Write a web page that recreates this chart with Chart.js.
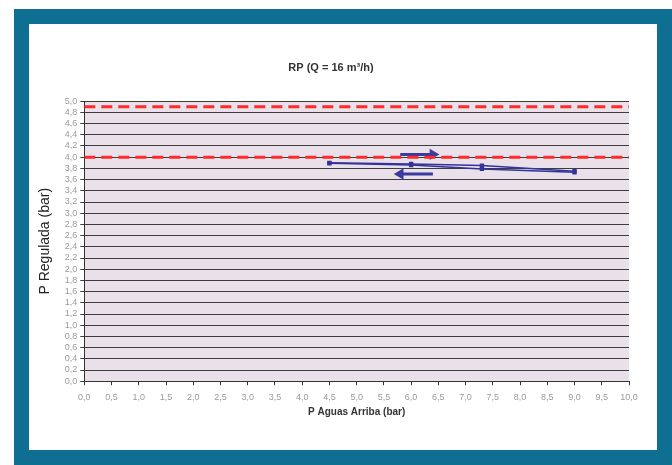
<!DOCTYPE html>
<html lang="es">
<head>
<meta charset="UTF-8">
<title>RP (Q = 16 m3/h)</title>
<script src="https://cdn.jsdelivr.net/npm/chart.js@4"></script>
<style>
  html, body { margin: 0; padding: 0; background: #fff; }
  .frame {
    position: absolute; left: 14px; top: 9px; width: 628px; height: 426px;
    border: 15px solid #0f6f93;
    background: #fff;
  }
  .frame canvas { display: block; }
</style>
</head>
<body>
<div class="frame">
  <canvas id="rpChart" width="628" height="426"></canvas>
</div>
<script>
// data
const upstreamRising  = [4.5, 6.0, 7.3, 9.0];
const regulatedRising = [3.90, 3.88, 3.85, 3.75];
const upstreamFalling  = [9.0, 7.3, 6.0, 4.5];
const regulatedFalling = [3.73, 3.79, 3.86, 3.89];

const limitHigh = 4.9;
const limitLow  = 4.0;

// direction arrows (annotation)
const arrowRightX = [5.8, 6.4];
const arrowRightY = [4.05, 4.05];
const arrowLeftX  = [6.4, 5.8];
const arrowLeftY  = [3.70, 3.70];

const xMin = 0, xMax = 10, xStep = 0.5;
const yMin = 0, yMax = 5, yStep = 0.2;

const toPts = (xs, ys) => xs.map((x, i) => ({ x: x, y: ys[i] }));
const comma = v => Number(v).toFixed(1).replace('.', ',');

const plotBg = {
  id: 'plotBg',
  beforeDraw(chart) {
    const { ctx, chartArea: a } = chart;
    ctx.save();
    ctx.fillStyle = '#e9e0e9';
    ctx.fillRect(a.left, a.top, a.right - a.left, a.bottom - a.top);
    ctx.restore();
  }
};

const arrowStyle = (color, rot) => ({
  type: 'line', borderColor: color, backgroundColor: color, borderWidth: 3,
  pointStyle: 'triangle', pointRotation: rot, pointRadius: [0, 3.5], pointHoverRadius: 0
});

new Chart('rpChart', {
  type: 'scatter',
  data: {
    datasets: [
      { type: 'line', data: [{ x: xMin, y: limitHigh }, { x: xMax, y: limitHigh }],
        borderColor: '#ff2a2a', borderWidth: 3, borderDash: [11, 6], pointRadius: 0 },
      { type: 'line', data: [{ x: xMin, y: limitLow }, { x: xMax, y: limitLow }],
        borderColor: '#ff2a2a', borderWidth: 3, borderDash: [11, 6], pointRadius: 0 },
      { type: 'line', data: toPts(upstreamRising, regulatedRising),
        borderColor: '#33339a', backgroundColor: '#33339a', borderWidth: 1.5,
        pointStyle: 'rect', pointRadius: 2 },
      { type: 'line', data: toPts(upstreamFalling, regulatedFalling),
        borderColor: '#33339a', backgroundColor: '#33339a', borderWidth: 1.5,
        pointStyle: 'rect', pointRadius: 2 },
      { ...arrowStyle('#3a3aa0', 90), data: toPts(arrowRightX, arrowRightY) },
      { ...arrowStyle('#3a3aa0', -90), data: toPts(arrowLeftX, arrowLeftY) }
    ]
  },
  plugins: [plotBg],
  options: {
    responsive: false,
    animation: false,
    layout: { padding: { left: 4, right: 28, top: 0, bottom: 32 } },
    plugins: {
      legend: { display: false },
      tooltip: { enabled: false },
      title: {
        display: true,
        text: 'RP (Q = 16 m³/h)',
        color: '#333',
        font: { family: 'Liberation Sans, Arial, sans-serif', size: 11, weight: 'bold' },
        padding: { top: 37, bottom: 27 }
      }
    },
    scales: {
      x: {
        type: 'linear', min: xMin, max: xMax,
        ticks: { stepSize: xStep, callback: comma, color: '#9a9a9a', maxRotation: 0, autoSkip: false,
                 font: { family: 'Liberation Sans, Arial, sans-serif', size: 9 }, padding: 7 },
        grid: { display: true, drawOnChartArea: false, drawTicks: true, tickLength: 4, color: '#333' },
        border: { color: '#333', width: 1 },
        title: { display: true, text: 'P Aguas Arriba (bar)', color: '#333',
                 font: { family: 'Liberation Sans, Arial, sans-serif', size: 10, weight: 'bold' },
                 padding: { top: -4, bottom: 0 } }
      },
      y: {
        type: 'linear', min: yMin, max: yMax,
        ticks: { stepSize: yStep, callback: comma, color: '#9a9a9a', autoSkip: false,
                 font: { family: 'Liberation Sans, Arial, sans-serif', size: 9 }, padding: 3 },
        grid: { color: '#3d3d3d', lineWidth: 1, tickLength: 4 },
        border: { color: '#333', width: 1 },
        title: { display: true, text: 'P Regulada (bar)', color: '#222',
                 font: { family: 'Liberation Sans, Arial, sans-serif', size: 14 },
                 padding: { bottom: 8 } }
      }
    }
  }
});
</script>
</body>
</html>
